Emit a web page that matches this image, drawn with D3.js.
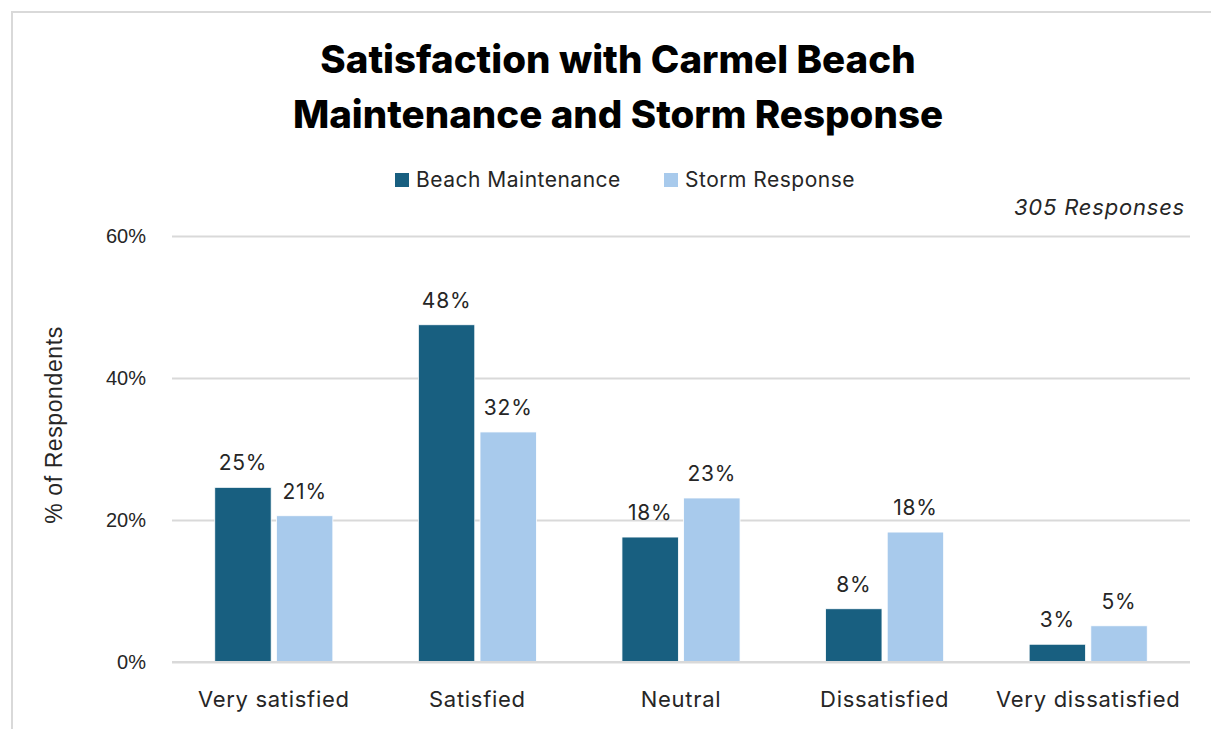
<!DOCTYPE html>
<html>
<head>
<meta charset="utf-8">
<script src="https://cdn.jsdelivr.net/npm/d3@7"></script>
<style>
  html, body { margin: 0; padding: 0; background: #fff; }
  svg { display: block; }
</style>
</head>
<body>
<svg id="chart" width="1211" height="729"></svg>
<script>
// Survey categories and the share of respondents for each topic (percent)
const categories = ["Very satisfied", "Satisfied", "Neutral", "Dissatisfied", "Very dissatisfied"];
const seriesNames = ["Beach Maintenance", "Storm Response"];
const beachMaintenance = [24.6, 47.5, 17.6, 7.5, 2.5];
const stormResponse = [20.6, 32.4, 23.1, 18.3, 5.1];
const yTicks = [0, 20, 40, 60];
const titleLines = ["Satisfaction with Carmel Beach", "Maintenance and Storm Response"];
const responseNote = "305 Responses";

const seriesValues = [beachMaintenance, stormResponse];
const colors = ["#185f80", "#a8caec"];
const rows = categories.map((c, i) => ({
  category: c,
  values: seriesNames.map((s, j) => ({ series: s, value: seriesValues[j][i], idx: j }))
}));

const svg = d3.select("#chart");
const W = 1211, H = 729;
const margin = { top: 236, right: 21, bottom: 67, left: 172 };
const plotW = W - margin.left - margin.right;
const plotH = H - margin.top - margin.bottom;

const mainFont = "Inter, 'Open Sans', sans-serif";
const axisFont = "'Liberation Sans', Arial, sans-serif";

// outer chart frame
svg.append("rect")
  .attr("x", 12).attr("y", 12)
  .attr("width", W + 10).attr("height", H + 10)
  .attr("fill", "none").attr("stroke", "#d9d9d9").attr("stroke-width", 2);

const g = svg.append("g").attr("transform", `translate(${margin.left},${margin.top})`);

const x0 = d3.scaleBand().domain(categories).range([0, plotW]).paddingInner(0.42).paddingOuter(0.21);
const x1 = d3.scaleBand().domain(seriesNames).range([0, x0.bandwidth()]).paddingInner(0.085);
const y = d3.scaleLinear().domain([0, 60]).range([plotH, 0]);

// gridlines
const yAxis = d3.axisLeft(y).tickValues(yTicks).tickSize(-plotW).tickFormat(d => d + "%").tickPadding(26);
const ya = g.append("g").call(yAxis);
ya.select(".domain").remove();
ya.selectAll(".tick line").attr("stroke", "#d9d9d9").attr("stroke-width", 2);
ya.selectAll(".tick text")
  .attr("font-family", axisFont).attr("font-size", 20).attr("fill", "#262626");

// bars
const groups = g.selectAll(".grp").data(rows).join("g")
  .attr("class", "grp")
  .attr("transform", d => `translate(${x0(d.category)},0)`);

groups.selectAll("rect").data(d => d.values).join("rect")
  .attr("x", d => x1(d.series))
  .attr("y", d => y(d.value))
  .attr("width", x1.bandwidth())
  .attr("height", d => y(0) - y(d.value))
  .attr("fill", d => colors[d.idx])
  .attr("stroke", "#ffffff").attr("stroke-width", 0.8);

// value labels
groups.selectAll("text.val").data(d => d.values).join("text")
  .attr("class", "val")
  .attr("x", d => x1(d.series) + x1.bandwidth() / 2)
  .attr("y", d => y(d.value) - 17)
  .attr("text-anchor", "middle")
  .attr("font-family", mainFont).attr("font-size", 21).attr("letter-spacing", 0.8)
  .attr("fill", "#262626")
  .text(d => Math.round(d.value) + "%");

// baseline
g.append("line")
  .attr("x1", 0).attr("x2", plotW).attr("y1", y(0)).attr("y2", y(0))
  .attr("stroke", "#d9d9d9").attr("stroke-width", 2);

// category axis
const xa = g.append("g").attr("transform", `translate(0,${plotH})`)
  .call(d3.axisBottom(x0).tickSize(0).tickPadding(29));
xa.select(".domain").remove();
xa.selectAll(".tick text")
  .attr("font-family", mainFont).attr("font-size", 22).attr("letter-spacing", 0.7)
  .attr("fill", "#262626");

// y axis title
svg.append("text")
  .attr("transform", `translate(62,425) rotate(-90)`)
  .attr("text-anchor", "middle")
  .attr("font-family", axisFont).attr("font-size", 23).attr("letter-spacing", 0.6)
  .attr("fill", "#262626")
  .text("% of Respondents");

// title
svg.append("text")
  .attr("text-anchor", "middle")
  .attr("font-family", mainFont).attr("font-weight", 800).attr("font-size", 38.5)
  .attr("fill", "#000")
  .selectAll("tspan").data(titleLines).join("tspan")
  .attr("x", 618).attr("y", (d, i) => 73 + i * 55)
  .text(d => d);

// legend
const legend = svg.append("g").attr("transform", "translate(395,180)");
const legendX = [0, 269];
seriesNames.forEach((s, i) => {
  const lg = legend.append("g").attr("transform", `translate(${legendX[i]},0)`);
  lg.append("rect").attr("x", 0).attr("y", -7).attr("width", 14).attr("height", 14).attr("fill", colors[i]);
  lg.append("text").attr("x", 21).attr("y", 0).attr("dy", "0.35em")
    .attr("font-family", mainFont).attr("font-size", 21).attr("letter-spacing", 0.5)
    .attr("fill", "#262626")
    .text(s);
});

// response count note
svg.append("text")
  .attr("x", 1185).attr("y", 215)
  .attr("text-anchor", "end")
  .attr("font-family", mainFont).attr("font-style", "italic").attr("font-size", 22)
  .attr("letter-spacing", 0.8)
  .attr("fill", "#262626")
  .text(responseNote);
</script>
</body>
</html>
